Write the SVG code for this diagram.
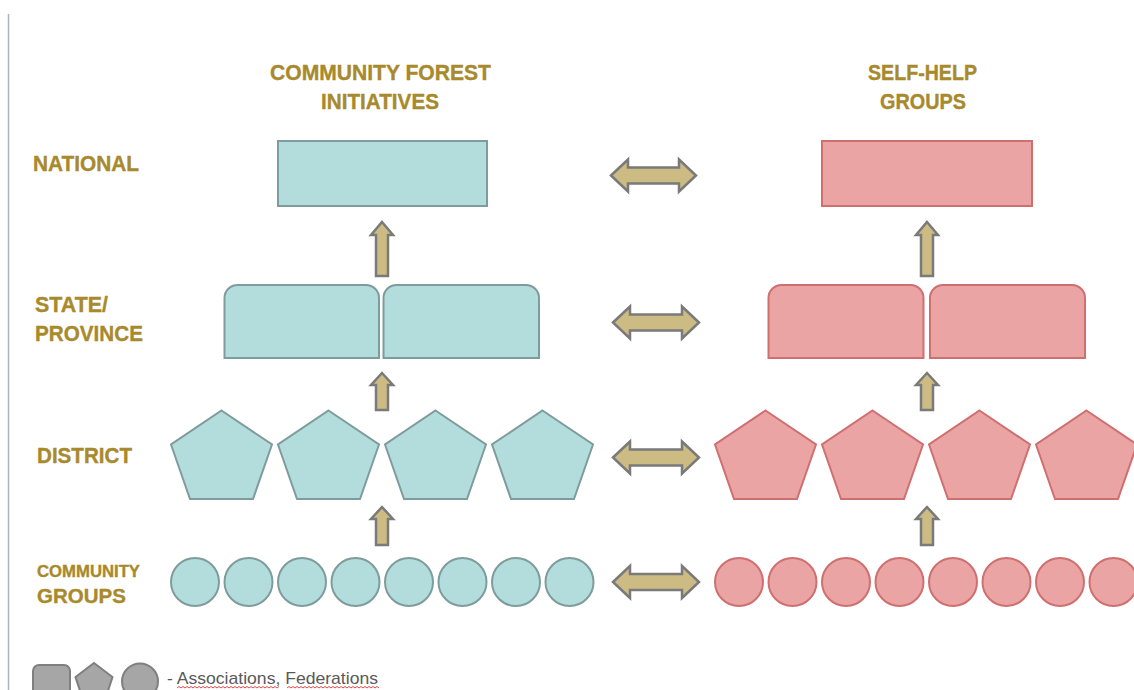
<svg xmlns="http://www.w3.org/2000/svg" xmlns:xlink="http://www.w3.org/1999/xlink" width="1134" height="690" viewBox="0 0 1134 690">
<style>
.lbl{font-family:"Liberation Sans",Arial,sans-serif;font-weight:bold;fill:#A8892C;stroke:#A8892C;stroke-width:0.35;}
.t{fill:#B3DCDC;stroke:#7F9C9C;stroke-width:2;}
.p{fill:#EAA4A4;stroke:#CF6F6F;stroke-width:2;}
.g{fill:#A6A6A6;stroke:#7F7F7F;stroke-width:2;}
.arr{fill:#CDBB84;stroke:#7A7A7A;stroke-width:2.5;stroke-linejoin:miter;}
.leg{font-family:"Liberation Sans",Arial,sans-serif;font-size:17px;fill:#595959;}
.sq{fill:none;stroke:#E04848;stroke-width:1;}
</style>
<defs>
<polygon id="pent" points="0,0 50.5,34 31.5,88.5 -31.5,88.5 -50.5,34"/>
</defs>
<rect width="1134" height="690" fill="#FFFFFF"/>
<line x1="8.5" y1="14" x2="8.5" y2="690" stroke="#A8B4C4" stroke-width="1.5"/>

<g id="headers">
<text class="lbl" font-size="22" x="270" y="80" textLength="221" lengthAdjust="spacingAndGlyphs">COMMUNITY FOREST</text>
<text class="lbl" font-size="22" x="321" y="109" textLength="118" lengthAdjust="spacingAndGlyphs">INITIATIVES</text>
<text class="lbl" font-size="22" x="868" y="80" textLength="109" lengthAdjust="spacingAndGlyphs">SELF-HELP</text>
<text class="lbl" font-size="22" x="880" y="109" textLength="86" lengthAdjust="spacingAndGlyphs">GROUPS</text>
</g>
<g id="levels">
<text class="lbl" font-size="22" x="33" y="171" textLength="106" lengthAdjust="spacingAndGlyphs">NATIONAL</text>
<text class="lbl" font-size="22" x="35" y="312" textLength="73" lengthAdjust="spacingAndGlyphs">STATE/</text>
<text class="lbl" font-size="22" x="35" y="341" textLength="108" lengthAdjust="spacingAndGlyphs">PROVINCE</text>
<text class="lbl" font-size="22" x="37" y="463" textLength="95" lengthAdjust="spacingAndGlyphs">DISTRICT</text>
<text class="lbl" font-size="16" x="37" y="577" textLength="103" lengthAdjust="spacingAndGlyphs">COMMUNITY</text>
<text class="lbl" font-size="21" x="37" y="603" textLength="89" lengthAdjust="spacingAndGlyphs">GROUPS</text>
</g>

<g id="cfi-national"><rect class="t" x="278" y="141" width="209" height="65"/></g>
<g id="shg-national"><rect class="p" x="822" y="141" width="210" height="65"/></g>

<g id="cfi-state">
<path class="t" d="M224.5 358 V298 A13 13 0 0 1 237.5 285 H366 A13 13 0 0 1 379 298 V358 Z"/>
<path class="t" d="M383.5 358 V298 A13 13 0 0 1 396.5 285 H526 A13 13 0 0 1 539 298 V358 Z"/>
</g>
<g id="shg-state">
<path class="p" d="M768.5 358 V298 A13 13 0 0 1 781.5 285 H910.5 A13 13 0 0 1 923.5 298 V358 Z"/>
<path class="p" d="M930 358 V298 A13 13 0 0 1 943 285 H1072 A13 13 0 0 1 1085 298 V358 Z"/>
</g>

<g id="cfi-district">
<use href="#pent" class="t" x="221.5" y="410.5"/>
<use href="#pent" class="t" x="328.5" y="410.5"/>
<use href="#pent" class="t" x="435.5" y="410.5"/>
<use href="#pent" class="t" x="542.5" y="410.5"/>
</g>
<g id="shg-district">
<use href="#pent" class="p" x="765.5" y="410.5"/>
<use href="#pent" class="p" x="872.5" y="410.5"/>
<use href="#pent" class="p" x="979.5" y="410.5"/>
<use href="#pent" class="p" x="1086.5" y="410.5"/>
</g>

<g id="cfi-community">
<circle class="t" cx="195" cy="582" r="24"/>
<circle class="t" cx="248.5" cy="582" r="24"/>
<circle class="t" cx="302" cy="582" r="24"/>
<circle class="t" cx="355.5" cy="582" r="24"/>
<circle class="t" cx="409" cy="582" r="24"/>
<circle class="t" cx="462.5" cy="582" r="24"/>
<circle class="t" cx="516" cy="582" r="24"/>
<circle class="t" cx="569.5" cy="582" r="24"/>
</g>
<g id="shg-community">
<circle class="p" cx="739" cy="582" r="24"/>
<circle class="p" cx="792.5" cy="582" r="24"/>
<circle class="p" cx="846" cy="582" r="24"/>
<circle class="p" cx="899.5" cy="582" r="24"/>
<circle class="p" cx="953" cy="582" r="24"/>
<circle class="p" cx="1006.5" cy="582" r="24"/>
<circle class="p" cx="1060" cy="582" r="24"/>
<circle class="p" cx="1113.5" cy="582" r="24"/>
</g>

<g id="connectors">
<path class="arr" d="M611 175.5 L628 159.5 L628 167.5 L679 167.5 L679 159.5 L696 175.5 L679 191.5 L679 183.5 L628 183.5 L628 191.5 Z"/>
<path class="arr" d="M613 322.5 L630 306.5 L630 314.5 L682 314.5 L682 306.5 L699 322.5 L682 338.5 L682 330.5 L630 330.5 L630 338.5 Z"/>
<path class="arr" d="M613 457.5 L630 441.5 L630 449.5 L682 449.5 L682 441.5 L699 457.5 L682 473.5 L682 465.5 L630 465.5 L630 473.5 Z"/>
<path class="arr" d="M613 582 L630 566 L630 574 L682 574 L682 566 L699 582 L682 598 L682 590 L630 590 L630 598 Z"/>
<path class="arr" d="M382 222 L393 235 L388 235 L388 276 L376 276 L376 235 L371 235 Z"/>
<path class="arr" d="M927 222 L938 235 L933 235 L933 276 L921 276 L921 235 L916 235 Z"/>
<path class="arr" d="M382 373 L393 385 L388 385 L388 410 L376 410 L376 385 L371 385 Z"/>
<path class="arr" d="M927 373 L938 385 L933 385 L933 410 L921 410 L921 385 L916 385 Z"/>
<path class="arr" d="M382 507 L393 519 L388 519 L388 545 L376 545 L376 519 L371 519 Z"/>
<path class="arr" d="M927 507 L938 519 L933 519 L933 545 L921 545 L921 519 L916 519 Z"/>
</g>

<g id="legend">
<rect class="g" x="33" y="665" width="37" height="40" rx="6"/>
<polygon class="g" points="94,663 112.5,677 105,700 83,700 75.5,677"/>
<circle class="g" cx="140" cy="681.5" r="18"/>
<text class="leg" x="167" y="684" textLength="211" lengthAdjust="spacingAndGlyphs">- Associations, Federations</text>
<path class="sq" d="M177 688 l2 -1.5 l2 1.5 l2 -1.5 l2 1.5 l2 -1.5 l2 1.5 l2 -1.5 l2 1.5 l2 -1.5 l2 1.5 l2 -1.5 l2 1.5 l2 -1.5 l2 1.5 l2 -1.5 l2 1.5 l2 -1.5 l2 1.5 l2 -1.5 l2 1.5 l2 -1.5 l2 1.5 l2 -1.5 l2 1.5 l2 -1.5 l2 1.5 l2 -1.5 l2 1.5 l2 -1.5 l2 1.5 l2 -1.5 l2 1.5 l2 -1.5 l2 1.5 l2 -1.5 l2 1.5 l2 -1.5 l2 1.5 l2 -1.5 l2 1.5 l2 -1.5 l2 1.5 l2 -1.5 l2 1.5 l2 -1.5 l2 1.5 l2 -1.5 l2 1.5 l2 -1.5 l2 1.5 l2 -1.5"/>
<path class="sq" d="M287 688 l2 -1.5 l2 1.5 l2 -1.5 l2 1.5 l2 -1.5 l2 1.5 l2 -1.5 l2 1.5 l2 -1.5 l2 1.5 l2 -1.5 l2 1.5 l2 -1.5 l2 1.5 l2 -1.5 l2 1.5 l2 -1.5 l2 1.5 l2 -1.5 l2 1.5 l2 -1.5 l2 1.5 l2 -1.5 l2 1.5 l2 -1.5 l2 1.5 l2 -1.5 l2 1.5 l2 -1.5 l2 1.5 l2 -1.5 l2 1.5 l2 -1.5 l2 1.5 l2 -1.5 l2 1.5 l2 -1.5 l2 1.5 l2 -1.5 l2 1.5 l2 -1.5 l2 1.5 l2 -1.5 l2 1.5 l2 -1.5 l2 1.5"/>
</g>
</svg>
